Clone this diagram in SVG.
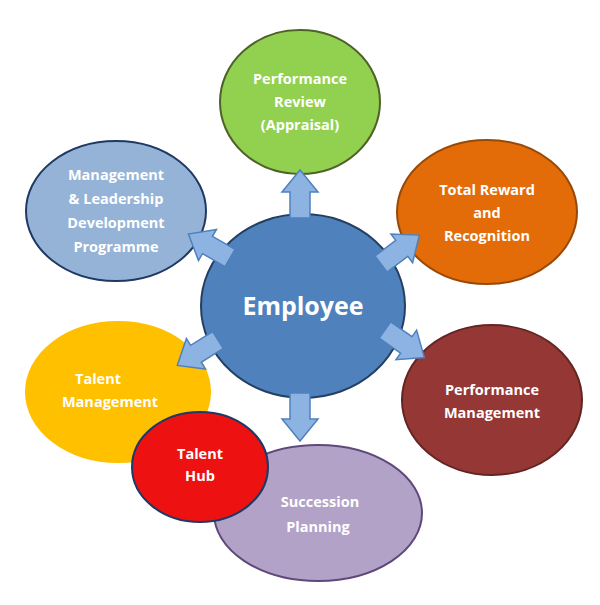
<svg xmlns="http://www.w3.org/2000/svg" width="600" height="605" viewBox="0 0 600 605">
<style>
.n{stroke-width:2}
.t{font-family:"Open Sans","Liberation Sans",sans-serif;font-weight:bold;font-size:14.5px;fill:#fff;text-anchor:middle}
.a{fill:#8db3e2;stroke:#4f81bd;stroke-width:1.5}
</style>
<defs><path id="ar" d="M0,-10 L26,-10 L26,-18 L48,0 L26,18 L26,10 L0,10 Z"/></defs>
<rect width="600" height="605" fill="#fff"/>
<g id="pr"><ellipse class="n" cx="300" cy="102" rx="80" ry="72" fill="#92d050" stroke="#4f6228"/>
<text class="t" x="300" y="84">Performance</text><text class="t" x="300" y="107">Review</text><text class="t" x="300" y="130">(Appraisal)</text></g>
<g id="tr"><ellipse class="n" cx="487" cy="212" rx="90" ry="72" fill="#e36c09" stroke="#984807"/>
<text class="t" x="487" y="195">Total Reward</text><text class="t" x="487" y="218">and</text><text class="t" x="487" y="241">Recognition</text></g>
<g id="pm"><ellipse class="n" cx="492" cy="400" rx="90" ry="75" fill="#953735" stroke="#632523"/>
<text class="t" x="492" y="395">Performance</text><text class="t" x="492" y="418">Management</text></g>
<g id="ml"><ellipse class="n" cx="116" cy="211" rx="90" ry="70" fill="#95b3d7" stroke="#1f3864"/>
<text class="t" x="116" y="180">Management</text><text class="t" x="116" y="204">&amp; Leadership</text><text class="t" x="116" y="228">Development</text><text class="t" x="116" y="252">Programme</text></g>
<g id="tm"><ellipse class="n" cx="118" cy="392" rx="92" ry="70" fill="#ffc000" stroke="#ffc000"/>
<text class="t" x="98" y="384">Talent</text><text class="t" x="110" y="407">Management</text></g>
<g id="sp"><ellipse class="n" cx="318" cy="513" rx="104" ry="68" fill="#b3a2c7" stroke="#5f497a"/>
<text class="t" x="320" y="507">Succession</text><text class="t" x="318" y="532">Planning</text></g>
<g id="th"><ellipse class="n" cx="200" cy="467" rx="68" ry="55" fill="#ee1111" stroke="#1f3864"/>
<text class="t" x="200" y="459">Talent</text><text class="t" x="200" y="481">Hub</text></g>
<g id="em"><ellipse class="n" cx="303" cy="306" rx="102" ry="92" fill="#4f81bd" stroke="#243f60"/>
<text x="303" y="315" style="font-family:'Open Sans','Liberation Sans',sans-serif;font-weight:bold;font-size:25px;fill:#fff;text-anchor:middle">Employee</text></g>
<g id="connectors">
<use href="#ar" class="a" transform="translate(300,218) rotate(-90)"/>
<use href="#ar" class="a" transform="translate(300,393) rotate(90)"/>
<use href="#ar" class="a" transform="translate(381,264) rotate(-37)"/>
<use href="#ar" class="a" transform="translate(230,258) rotate(-150)"/>
<use href="#ar" class="a" transform="translate(385,330) rotate(35)"/>
<use href="#ar" class="a" transform="translate(218,340) rotate(148)"/>
</g>
</svg>
